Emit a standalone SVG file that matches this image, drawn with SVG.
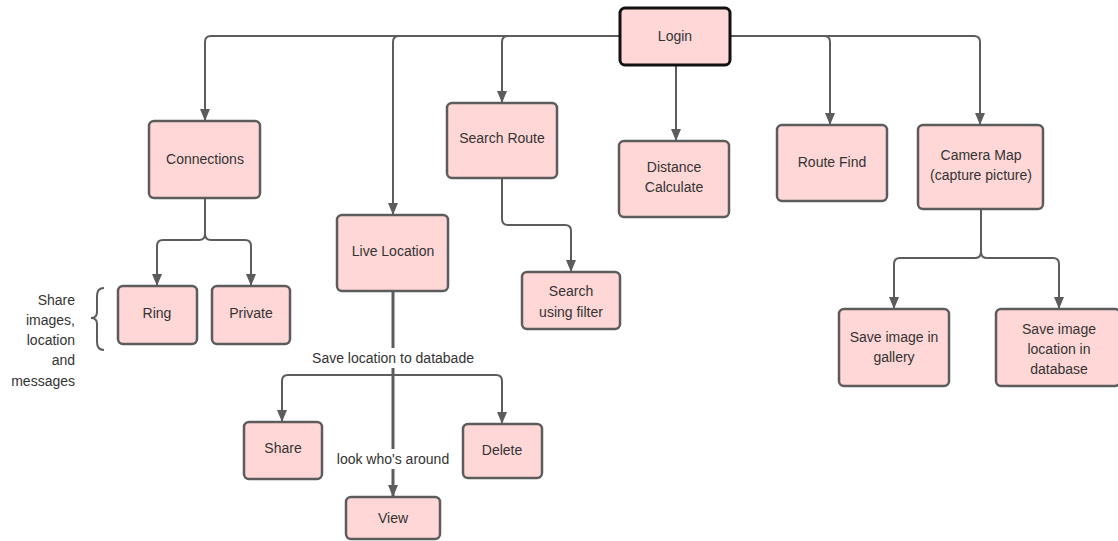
<svg xmlns="http://www.w3.org/2000/svg" width="1118" height="541" viewBox="0 0 1118 541">
<style>
.box{fill:#ffd7d7;stroke:#5c5c5c;stroke-width:2.5}
.login{fill:#ffd7d7;stroke:#111;stroke-width:3}
.t{font-family:"Liberation Sans",Arial,sans-serif;font-size:14px;fill:#333;text-anchor:middle}
.c{fill:none;stroke:#5c5c5c;stroke-width:2}
.thick{stroke-width:3}
.lbl{font-family:"Liberation Sans",Arial,sans-serif;font-size:14px;fill:#333}
</style>
<defs>
<marker id="arr" viewBox="0 0 12 10" refX="12" refY="5" markerWidth="12" markerHeight="10" markerUnits="userSpaceOnUse" orient="auto">
<path d="M0,0 L12,5 L0,10 z" fill="#5c5c5c"/>
</marker>
</defs>
<rect width="1118" height="541" fill="#fff"/>
<g id="connectors">
<path class="c" d="M620,36 H211 Q205,36 205,42 V121" marker-end="url(#arr)"/>
<path class="c" d="M620,36 H399 Q393,36 393,42 V215" marker-end="url(#arr)"/>
<path class="c" d="M620,36 H508 Q502,36 502,42 V103" marker-end="url(#arr)"/>
<path class="c" d="M676,65 V141" marker-end="url(#arr)"/>
<path class="c" d="M730,36 H824 Q830,36 830,42 V125" marker-end="url(#arr)"/>
<path class="c" d="M730,36 H974 Q980,36 980,42 V125" marker-end="url(#arr)"/>
<path class="c" d="M205,198 V234 Q205,240 199,240 H163 Q157,240 157,246 V286" marker-end="url(#arr)"/>
<path class="c" d="M205,198 V234 Q205,240 211,240 H245 Q251,240 251,246 V286" marker-end="url(#arr)"/>
<path class="c thick" d="M393,291 V375"/>
<path class="c" d="M393,375 H288 Q282,375 282,381 V422" marker-end="url(#arr)"/>
<path class="c" d="M393,375 H496 Q502,375 502,381 V424" marker-end="url(#arr)"/>
<path class="c thick" d="M393,375 V497" marker-end="url(#arr)"/>
<path class="c" d="M502,178 V219 Q502,225 508,225 H565 Q571,225 571,231 V272" marker-end="url(#arr)"/>
<path class="c" d="M981,209 V252 Q981,258 975,258 H900 Q894,258 894,264 V309" marker-end="url(#arr)"/>
<path class="c" d="M981,209 V252 Q981,258 987,258 H1053 Q1059,258 1059,264 V309" marker-end="url(#arr)"/>
<path class="c" d="M104,288 Q97,288 97,296 V312 Q97,318 91,318 Q97,318 97,324 V342 Q97,350 104,350"/>
</g>
<g id="label-save">
<rect x="309" y="348" width="168" height="20" fill="#fff"/>
<text class="t" x="393" y="363">Save location to databade</text>
</g>
<g id="label-look">
<rect x="333" y="449" width="120" height="20" fill="#fff"/>
<text class="t" x="393" y="464">look who's around</text>
</g>
<g id="label-share">
<text class="lbl" text-anchor="end" x="75" y="305">Share</text>
<text class="lbl" text-anchor="end" x="75" y="325">images,</text>
<text class="lbl" text-anchor="end" x="75" y="345">location</text>
<text class="lbl" text-anchor="end" x="75" y="365">and</text>
<text class="lbl" text-anchor="end" x="75" y="386">messages</text>
</g>
<g id="login"><rect class="login" x="620" y="8" width="110" height="57" rx="5"/><text class="t" x="675" y="41">Login</text></g>
<g id="connections"><rect class="box" x="149" y="121" width="111" height="77" rx="5"/><text class="t" x="205" y="164">Connections</text></g>
<g id="ring"><rect class="box" x="118" y="286" width="79" height="58" rx="5"/><text class="t" x="157" y="318">Ring</text></g>
<g id="private"><rect class="box" x="212" y="286" width="78" height="58" rx="5"/><text class="t" x="251" y="318">Private</text></g>
<g id="live-location"><rect class="box" x="337" y="215" width="111" height="76" rx="5"/><text class="t" x="393" y="256">Live Location</text></g>
<g id="share"><rect class="box" x="244" y="422" width="78" height="57" rx="5"/><text class="t" x="283" y="453">Share</text></g>
<g id="delete"><rect class="box" x="463" y="424" width="79" height="54" rx="5"/><text class="t" x="502" y="455">Delete</text></g>
<g id="view"><rect class="box" x="346" y="497" width="94" height="42" rx="5"/><text class="t" x="393" y="523">View</text></g>
<g id="search-route"><rect class="box" x="447" y="103" width="110" height="75" rx="5"/><text class="t" x="502" y="143">Search Route</text></g>
<g id="search-filter"><rect class="box" x="522" y="272" width="98" height="57" rx="5"/><text class="t" x="571" y="296">Search</text><text class="t" x="571" y="317">using filter</text></g>
<g id="distance"><rect class="box" x="619" y="141" width="110" height="76" rx="5"/><text class="t" x="674" y="172">Distance</text><text class="t" x="674" y="192">Calculate</text></g>
<g id="route-find"><rect class="box" x="777" y="125" width="110" height="76" rx="5"/><text class="t" x="832" y="167">Route Find</text></g>
<g id="camera-map"><rect class="box" x="918" y="125" width="125" height="84" rx="5"/><text class="t" x="981" y="160">Camera Map</text><text class="t" x="981" y="180">(capture picture)</text></g>
<g id="save-gallery"><rect class="box" x="839" y="309" width="110" height="77" rx="5"/><text class="t" x="894" y="342">Save image in</text><text class="t" x="894" y="362">gallery</text></g>
<g id="save-db"><rect class="box" x="996" y="309" width="124" height="77" rx="5"/><text class="t" x="1059" y="334">Save image</text><text class="t" x="1059" y="354">location in</text><text class="t" x="1059" y="374">database</text></g>
</svg>
